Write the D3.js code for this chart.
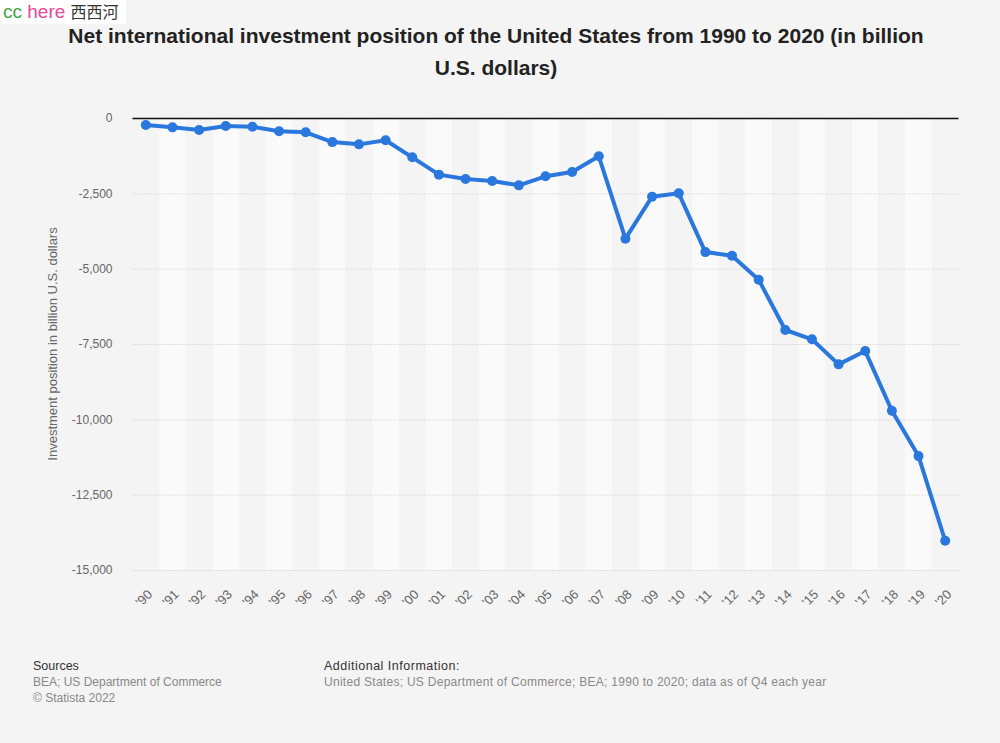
<!DOCTYPE html>
<html>
<head>
<meta charset="utf-8">
<script src="https://cdn.jsdelivr.net/npm/d3@7"></script>
<style>
  html, body { margin: 0; padding: 0; background: #f4f4f4; }
  svg { display: block; font-family: "Liberation Sans", Arial, sans-serif; }
</style>
</head>
<body>
<svg id="chart" width="1000" height="743"></svg>
<script>
const years = ["'90","'91","'92","'93","'94","'95","'96","'97","'98","'99","'00","'01","'02","'03","'04","'05","'06","'07","'08","'09","'10","'11","'12","'13","'14","'15","'16","'17","'18","'19","'20"];
const values = [-230,-310,-400,-265,-290,-440,-475,-800,-875,-740,-1305,-1880,-2025,-2090,-2235,-1935,-1790,-1270,-4005,-2610,-2500,-4450,-4570,-5365,-7035,-7345,-8175,-7735,-9715,-11220,-14030];
const yTicks = [0,-2500,-5000,-7500,-10000,-12500,-15000];

(function () {
const svg = d3.select("#chart");
const W = 1000, H = 743;
svg.append("rect").attr("width", W).attr("height", H).attr("fill", "#f4f4f4");

const pLeft = 132.5, pRight = 958.5, pTop = 118, pBottom = 570;
const x = d3.scaleBand().domain(years).range([pLeft, pRight]);
const y = d3.scaleLinear().domain([-15000, 0]).range([pBottom, pTop]);

// alternating column bands
svg.append("g").selectAll("rect").data(years).join("rect")
  .attr("x", d => x(d)).attr("y", pTop).attr("width", x.bandwidth()).attr("height", pBottom - pTop)
  .attr("fill", (d, i) => i % 2 === 1 ? "#fafafa" : "#f4f4f4");

// grid lines
svg.append("g").selectAll("line").data(yTicks.filter(t => t !== 0)).join("line")
  .attr("x1", pLeft).attr("x2", pRight).attr("y1", d => y(d) + 0.5).attr("y2", d => y(d) + 0.5)
  .attr("stroke", "#c8c8c8").attr("stroke-width", 1).attr("stroke-dasharray", "1,2");

// zero line
svg.append("line").attr("x1", pLeft).attr("x2", pRight).attr("y1", y(0) + 0.5).attr("y2", y(0) + 0.5)
  .attr("stroke", "#111").attr("stroke-width", 1.4);

// y axis
const yAxis = d3.axisLeft(y).tickValues(yTicks).tickSize(0).tickPadding(0)
  .tickFormat(d => d3.format(",")(d).replace("−", "-"));
const gy = svg.append("g").attr("transform", `translate(${pLeft - 20},0)`).call(yAxis);
gy.select(".domain").remove();
gy.selectAll("text").attr("fill", "#666").attr("font-size", 12).attr("font-family", "Liberation Sans, Arial, sans-serif");

// x axis
const xAxis = d3.axisBottom(x).tickSize(0).tickPadding(0);
const gx = svg.append("g").attr("transform", `translate(0,${pBottom + 18})`).call(xAxis);
gx.select(".domain").remove();
gx.selectAll("text").attr("fill", "#666").attr("font-size", 13)
  .attr("font-family", "Liberation Sans, Arial, sans-serif")
  .attr("text-anchor", "end").attr("dy", "0.35em")
  .attr("transform", "translate(4,4) rotate(-45)");

// y axis title
svg.append("text").attr("transform", `translate(57,${(pTop + pBottom) / 2}) rotate(-90)`)
  .attr("text-anchor", "middle").attr("fill", "#666").attr("font-size", 13)
  .text("Investment position in billion U.S. dollars");

// line
const line = d3.line().x((d, i) => x(years[i]) + x.bandwidth() / 2).y(d => y(d));
svg.append("path").datum(values).attr("d", line).attr("fill", "none")
  .attr("stroke", "#2a77dd").attr("stroke-width", 4).attr("stroke-linejoin", "round");
svg.append("g").selectAll("circle").data(values).join("circle")
  .attr("cx", (d, i) => x(years[i]) + x.bandwidth() / 2).attr("cy", d => y(d)).attr("r", 5)
  .attr("fill", "#2a77dd");

// title
const title = svg.append("text").attr("text-anchor", "middle").attr("font-weight", "bold")
  .attr("font-size", 21).attr("fill", "#222");
title.append("tspan").attr("x", 496).attr("y", 43).text("Net international investment position of the United States from 1990 to 2020 (in billion");
title.append("tspan").attr("x", 496).attr("y", 75).text("U.S. dollars)");

// watermark
svg.append("rect").attr("x", 0).attr("y", 0).attr("width", 126).attr("height", 24).attr("fill", "#ffffff");
const wm = svg.append("text").attr("x", 3).attr("y", 18).attr("font-size", 19);
wm.append("tspan").attr("fill", "#3fa53f").text("cc ");
wm.append("tspan").attr("fill", "#e8479a").text("here ");
wm.append("tspan").attr("fill", "#333").attr("font-family", "Noto Sans CJK SC").attr("font-size", 16).text("西西河");

// footer
svg.append("text").attr("x", 33).attr("y", 670).attr("font-size", 12.5).attr("fill", "#333").text("Sources");
svg.append("text").attr("x", 33).attr("y", 686).attr("font-size", 12).attr("fill", "#888").text("BEA; US Department of Commerce");
svg.append("text").attr("x", 33).attr("y", 702).attr("font-size", 12).attr("fill", "#888").text("© Statista 2022");
svg.append("text").attr("x", 324).attr("y", 670).attr("font-size", 12.5).attr("fill", "#333").attr("letter-spacing", 0.5).text("Additional Information:");
svg.append("text").attr("x", 324).attr("y", 686).attr("font-size", 12).attr("fill", "#888").attr("letter-spacing", 0.28).text("United States; US Department of Commerce; BEA; 1990 to 2020; data as of Q4 each year");
})();
</script>
</body>
</html>
